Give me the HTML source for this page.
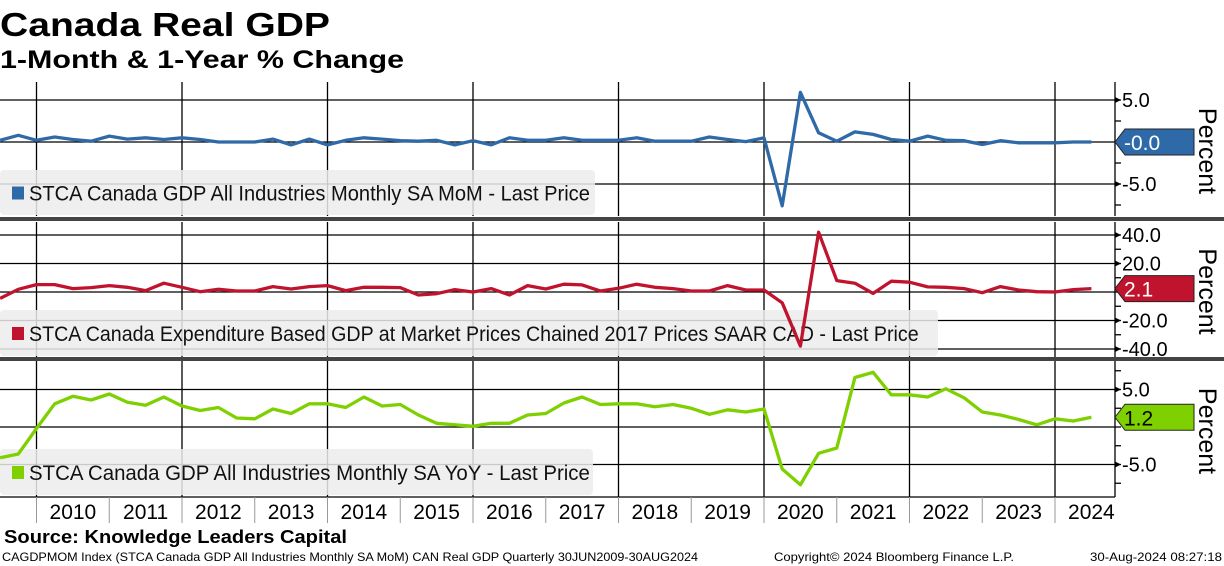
<!DOCTYPE html>
<html><head><meta charset="utf-8"><style>
body{margin:0;background:#fff;width:1224px;height:566px;overflow:hidden}
svg{display:block;font-family:"Liberation Sans",sans-serif}
</style></head><body>
<svg id="c" width="1224" height="566" viewBox="0 0 1224 566">
<text x="0" y="36" font-size="33" font-weight="bold" textLength="330" lengthAdjust="spacingAndGlyphs">Canada Real GDP</text>
<text x="0" y="68" font-size="25" font-weight="bold" textLength="404" lengthAdjust="spacingAndGlyphs">1-Month &amp; 1-Year % Change</text>
<g id="plots"></g>
<text x="4" y="543" font-size="18" font-weight="bold" textLength="343" lengthAdjust="spacingAndGlyphs">Source: Knowledge Leaders Capital</text>
<text x="2" y="561" font-size="12" textLength="696" lengthAdjust="spacingAndGlyphs">CAGDPMOM Index (STCA Canada GDP All Industries Monthly SA MoM) CAN Real GDP  Quarterly 30JUN2009-30AUG2024</text>
<text x="774" y="561" font-size="12" textLength="240" lengthAdjust="spacingAndGlyphs">Copyright© 2024 Bloomberg Finance L.P.</text>
<text x="1090" y="561" font-size="12" textLength="132" lengthAdjust="spacingAndGlyphs">30-Aug-2024 08:27:18</text>
</svg>
<script>
const years = ["2010","2011","2012","2013","2014","2015","2016","2017","2018","2019","2020","2021","2022","2023","2024"];
const momValues = [0.2,0.8,0.2,0.6,0.3,0.1,0.7,0.35,0.5,0.3,0.5,0.3,0,0,0,0.35,-0.35,0.35,-0.35,0.2,0.5,0.35,0.15,0.1,0.2,-0.35,0.15,-0.35,0.5,0.2,0.2,0.5,0.2,0.2,0.2,0.5,0.1,0.1,0.1,0.6,0.3,0.05,0.5,-7.6,5.9,1.1,0.1,1.2,0.9,0.3,0.1,0.7,0.2,0.15,-0.3,0.15,-0.1,-0.1,-0.1,0,0];
const saarValues = [-4.5,1.9,5.2,5.2,2.4,3.1,4.5,3.3,1,6.2,3.3,0.2,1.9,0.7,0.7,3.8,2.1,3.8,4.5,1,3.3,3.3,3.1,-2.1,-1.2,1.7,0,2.4,-2.1,4.5,2.1,5.5,5,0.7,2.6,5.5,3.3,2.4,0.7,0.7,4.5,1.4,1.4,-7.6,-38,42,8,6.2,-1,7.6,6.9,3.6,3.3,2.4,-0.5,3.8,1.4,0.2,0,1.7,2.4];
const yoyValues = [-4.1,-3.6,-0.2,3.1,4.1,3.6,4.4,3.3,2.9,4.0,2.8,2.2,2.6,1.2,1.1,2.4,1.8,3.1,3.1,2.6,4.0,2.8,3.0,1.6,0.5,0.3,0.1,0.5,0.5,1.6,1.8,3.2,4.0,3.0,3.1,3.1,2.7,3.0,2.5,1.7,2.3,2.0,2.4,-5.6,-7.7,-3.5,-2.8,6.6,7.3,4.3,4.3,4.0,5.1,3.9,2.0,1.6,1.0,0.3,1.1,0.8,1.3];
const momTicks = ["5.0","-5.0"], momTickVals=[5,-5];
const saarTicks = ["40.0","20.0","-20.0","-40.0"], saarTickVals=[40,20,-20,-40];
const yoyTicks = ["5.0","-5.0"], yoyTickVals=[5,-5];
const momLast = "-0.0", saarLast = "2.1", yoyLast = "1.2";

const NS="http://www.w3.org/2000/svg";
const g=document.getElementById('plots');
function el(t,a,p){const e=document.createElementNS(NS,t);for(const k in a)e.setAttribute(k,a[k]);(p||g).appendChild(e);return e;}
const X0=36.5, YW=72.75, AX=1115;
function xAt(i){return X0-2*YW/4+i*YW/4;}

function panel(name,top,bot,zeroY,pxPerUnit,minorStep,vals,color,tickLabels,tickVals,last,legend,legW,legTop,legBot,badgeTxtColor){
  const y=v=>zeroY-v*pxPerUnit;
  [0].concat(tickVals).forEach(v=>{
    const l=el('line',{x1:0,x2:AX,y1:y(v),y2:y(v),stroke:'#000','stroke-width':1.3});
    
    
  });
  for(let k=0;k<15;k+=2){
    const vx=X0+k*YW;
    const l=el('line',{x1:vx,x2:vx,y1:top,y2:bot,stroke:'#000','stroke-width':1.3});
    
    
  }
  const ax=el('line',{x1:AX,x2:AX,y1:top,y2:bot,stroke:'#000','stroke-width':1.3});
  
  
  for(let v=-100;v<=100;v+=minorStep){const yy=y(v);if(yy>top+2&&yy<bot-1){const t=el('line',{x1:AX,x2:AX+6,y1:yy,y2:yy,stroke:'#000','stroke-width':1.3});}}
  tickVals.forEach((v,i)=>{
    const p=el('path',{d:`M${AX} ${y(v)-3}L${AX+6} ${y(v)}L${AX} ${y(v)+3}Z`,fill:'#000'});
    
    
    const t=el('text',{x:AX+7,y:y(v)+7,'font-size':20});
    t.textContent=tickLabels[i];
    
    
  });
  const lb=el('rect',{x:0,y:legTop,width:legW,height:legBot-legTop,rx:4,fill:'#ececec','fill-opacity':0.85});
  
  
  const sw=el('rect',{x:12,y:(legTop+legBot)/2-6,width:12,height:13,fill:color});
  
  
  const lt=el('text',{x:29,y:(legTop+legBot)/2+8,'font-size':21,textLength:legend.length*9.67,lengthAdjust:'spacingAndGlyphs',fill:'#111'});
  lt.textContent=legend;
  
  
  const pts=vals.map((v,i)=>xAt(i).toFixed(1)+','+y(v).toFixed(1)).join(' ');
  const pl=el('polyline',{points:pts,fill:'none',stroke:color,'stroke-width':3.3,'stroke-linejoin':'round'});
  
  
  const by=y(vals[vals.length-1]);
  const bd=el('path',{d:`M${AX} ${by}L${AX+10} ${by-13}H1194V${by+13}H${AX+10}Z`,fill:color,stroke:'#222','stroke-width':1});
  
  
  const bt=el('text',{x:1124,y:by+8,'font-size':21,fill:badgeTxtColor});
  bt.textContent=last;
  
  
  const pc=el('text',{x:0,y:0,'font-size':25,'text-anchor':'middle',transform:`translate(1199 ${(top+bot)/2+2}) rotate(90)`});
  pc.textContent='Percent';
  
  
}
panel('mom-panel',82,216,142,8.4,2.5,momValues,'#2e6aa8',momTicks,momTickVals,momLast,'STCA Canada GDP All Industries Monthly SA MoM - Last Price',595,170,215,'#fff');
panel('saar-panel',222,357,292,1.425,10,saarValues,'#c0142e',saarTicks,saarTickVals,saarLast,'STCA Canada Expenditure Based GDP at Market Prices Chained 2017 Prices SAAR CAD - Last Price',938,310,356,'#fff');
panel('yoy-panel',361,497,427,7.5,2.5,yoyValues,'#7ed000',yoyTicks,yoyTickVals,yoyLast,'STCA Canada GDP All Industries Monthly SA YoY - Last Price',593,449,495,'#000');
[219,359].forEach(sy=>{const s=el('rect',{x:0,y:sy-2,width:1224,height:4,fill:'#444'});});
const ab=el('line',{x1:0,x2:AX,y1:497,y2:497,stroke:'#000','stroke-width':1.3});


years.forEach((yr,k)=>{
  const sx=X0+k*YW;
  const s=el('line',{x1:sx,x2:sx,y1:497,y2:523,stroke:'#999','stroke-width':1});
  
  
  const t=el('text',{x:sx+YW/2,y:519,'font-size':21,'text-anchor':'middle'});
  t.textContent=yr;
  
  
});
</script>
</body></html>
